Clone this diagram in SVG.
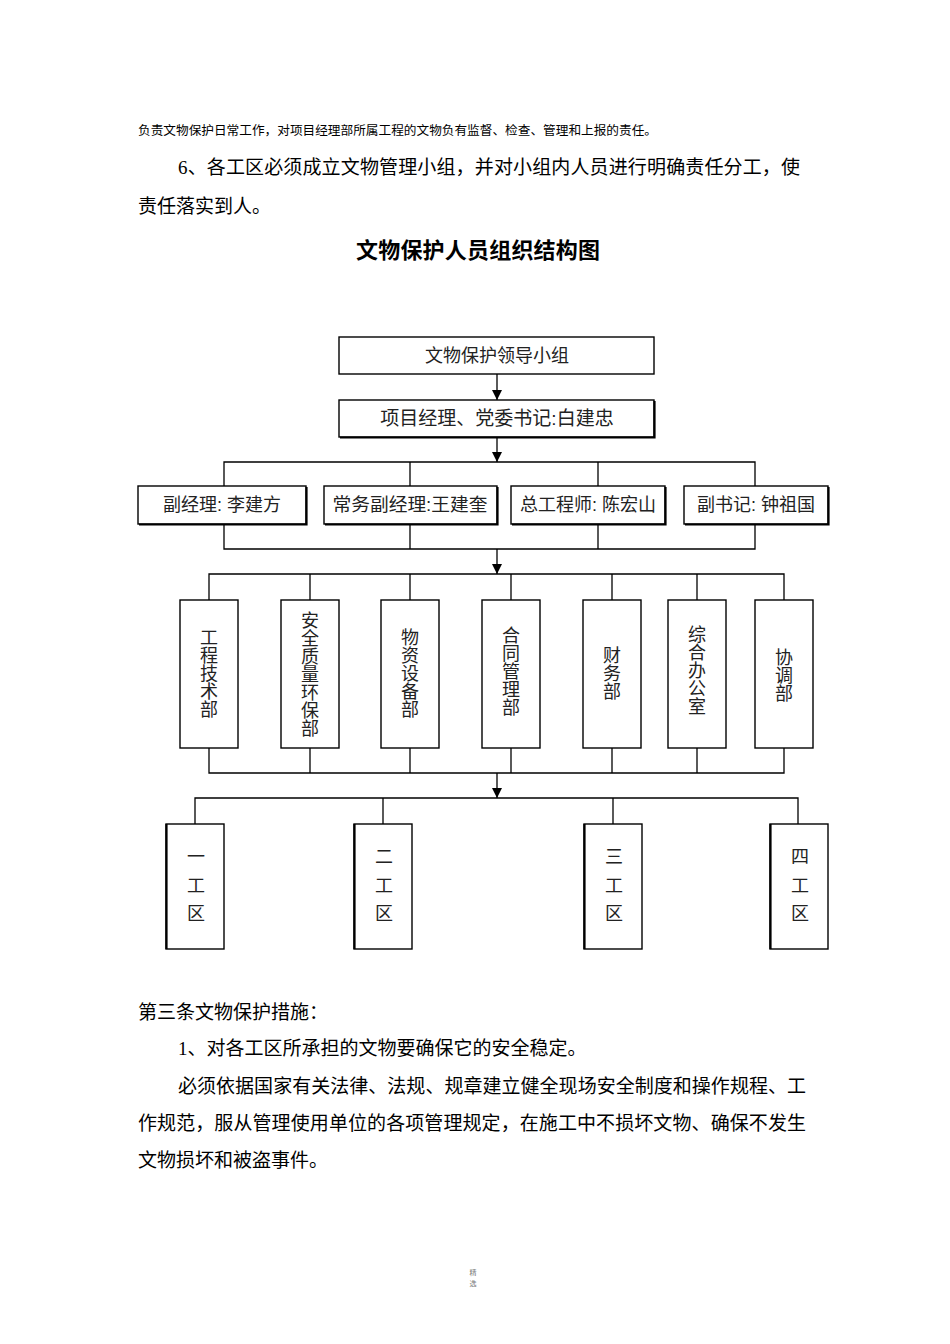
<svg xmlns="http://www.w3.org/2000/svg" width="950" height="1344" viewBox="0 0 950 1344">
<defs>
<marker id="arr" markerWidth="10" markerHeight="10" refX="10" refY="5" orient="auto" markerUnits="userSpaceOnUse" viewBox="0 0 10 10">
<path d="M0,0 L10,5 L0,10 Z" fill="#000"/>
</marker>
</defs>
<style>
.body{font-family:"Liberation Serif","Noto Sans CJK SC",serif;font-size:19px;fill:#000}
.small{font-family:"Liberation Serif","Noto Sans CJK SC",serif;font-size:12.5px;fill:#000}
.title{font-family:"Liberation Sans","Noto Sans CJK SC",sans-serif;font-size:22px;font-weight:bold;fill:#000}
.box{fill:#fff;stroke:#000;stroke-width:1.4}
.sh{fill:none;stroke:#000;stroke-width:2.2}
.lbl{font-family:"Liberation Sans","Noto Sans CJK SC",sans-serif;font-size:18px;fill:#222;text-anchor:middle}
.vl{font-family:"Liberation Sans","Noto Sans CJK SC",sans-serif;font-size:18px;fill:#222;text-anchor:middle}
.ln{fill:none;stroke:#000;stroke-width:1.3}
.foot{font-family:"Noto Sans CJK SC",sans-serif;font-size:7px;fill:#777;text-anchor:middle}
</style>
<rect width="950" height="1344" fill="#fff"/>

<g id="text-top">
<text class="small" x="138" y="135" textLength="519" lengthAdjust="spacingAndGlyphs">负责文物保护日常工作，对项目经理部所属工程的文物负有监督、检查、管理和上报的责任。</text>
<text class="body" x="178" y="174" textLength="622" lengthAdjust="spacing">6、各工区必须成立文物管理小组，并对小组内人员进行明确责任分工，使</text>
<text class="body" x="138" y="213">责任落实到人。</text>
<text class="title" x="478" y="258" text-anchor="middle" textLength="244" lengthAdjust="spacing">文物保护人员组织结构图</text>
</g>

<g id="connectors">
<line class="ln" x1="497" y1="374" x2="497" y2="400" marker-end="url(#arr)"/>
<line class="ln" x1="497" y1="437" x2="497" y2="462" marker-end="url(#arr)"/>
<polyline class="ln" points="224,486 224,462 755,462 755,486"/>
<line class="ln" x1="410" y1="462" x2="410" y2="486"/>
<line class="ln" x1="598" y1="462" x2="598" y2="486"/>
<polyline class="ln" points="224,524 224,549 755,549 755,524"/>
<line class="ln" x1="410" y1="524" x2="410" y2="549"/>
<line class="ln" x1="598" y1="524" x2="598" y2="549"/>
<line class="ln" x1="497" y1="549" x2="497" y2="574" marker-end="url(#arr)"/>
<polyline class="ln" points="209,600 209,574 784,574 784,600"/>
<line class="ln" x1="310" y1="574" x2="310" y2="600"/>
<line class="ln" x1="410" y1="574" x2="410" y2="600"/>
<line class="ln" x1="511" y1="574" x2="511" y2="600"/>
<line class="ln" x1="612" y1="574" x2="612" y2="600"/>
<line class="ln" x1="697" y1="574" x2="697" y2="600"/>
<polyline class="ln" points="209,748 209,773 784,773 784,748"/>
<line class="ln" x1="310" y1="748" x2="310" y2="773"/>
<line class="ln" x1="410" y1="748" x2="410" y2="773"/>
<line class="ln" x1="511" y1="748" x2="511" y2="773"/>
<line class="ln" x1="612" y1="748" x2="612" y2="773"/>
<line class="ln" x1="697" y1="748" x2="697" y2="773"/>
<line class="ln" x1="497" y1="773" x2="497" y2="798" marker-end="url(#arr)"/>
<polyline class="ln" points="195,824 195,798 798,798 798,824"/>
<line class="ln" x1="383" y1="798" x2="383" y2="824"/>
<line class="ln" x1="613" y1="798" x2="613" y2="824"/>
</g>

<g id="n-lead">
<rect class="box" x="339" y="337" width="315" height="37"/>
<text class="lbl" x="497" y="362">文物保护领导小组</text>
</g>
<g id="n-pm">
<rect class="box" x="339" y="400" width="315" height="37"/>
<polyline class="sh" points="340,437.5 654.5,437.5 654.5,401"/>
<text class="lbl" x="497" y="425" style="font-size:19px">项目经理、党委书记:白建忠</text>
</g>

<g id="n-dep1">
<rect class="box" x="138" y="486" width="168" height="38"/>
<polyline class="sh" points="139,524.5 306.5,524.5 306.5,487"/>
<text class="lbl" x="222" y="511">副经理: 李建方</text>
</g>
<g id="n-dep2">
<rect class="box" x="324" y="486" width="173" height="38"/>
<polyline class="sh" points="325,524.5 497.5,524.5 497.5,487"/>
<text class="lbl" x="410" y="511" textLength="155" lengthAdjust="spacingAndGlyphs">常务副经理:王建奎</text>
</g>
<g id="n-dep3">
<rect class="box" x="511" y="486" width="154" height="38"/>
<polyline class="sh" points="512,524.5 665.5,524.5 665.5,487"/>
<text class="lbl" x="588" y="511">总工程师: 陈宏山</text>
</g>
<g id="n-dep4">
<rect class="box" x="684" y="486" width="144" height="38"/>
<polyline class="sh" points="685,524.5 828.5,524.5 828.5,487"/>
<text class="lbl" x="756" y="511">副书记: 钟祖国</text>
</g>

<g id="n-d1">
<rect class="box" x="180" y="600" width="58" height="148"/>
<text class="vl"><tspan x="209" y="644">工</tspan><tspan x="209" y="662">程</tspan><tspan x="209" y="680">技</tspan><tspan x="209" y="698">术</tspan><tspan x="209" y="716">部</tspan></text>
</g>
<g id="n-d2">
<rect class="box" x="281" y="600" width="58" height="148"/>
<text class="vl"><tspan x="310" y="627">安</tspan><tspan x="310" y="645">全</tspan><tspan x="310" y="663">质</tspan><tspan x="310" y="681">量</tspan><tspan x="310" y="699">环</tspan><tspan x="310" y="717">保</tspan><tspan x="310" y="735">部</tspan></text>
</g>
<g id="n-d3">
<rect class="box" x="381" y="600" width="58" height="148"/>
<text class="vl"><tspan x="410" y="644">物</tspan><tspan x="410" y="662">资</tspan><tspan x="410" y="680">设</tspan><tspan x="410" y="698">备</tspan><tspan x="410" y="716">部</tspan></text>
</g>
<g id="n-d4">
<rect class="box" x="482" y="600" width="58" height="148"/>
<text class="vl"><tspan x="511" y="642">合</tspan><tspan x="511" y="660">同</tspan><tspan x="511" y="678">管</tspan><tspan x="511" y="696">理</tspan><tspan x="511" y="714">部</tspan></text>
</g>
<g id="n-d5">
<rect class="box" x="583" y="600" width="58" height="148"/>
<text class="vl"><tspan x="612" y="662">财</tspan><tspan x="612" y="680">务</tspan><tspan x="612" y="698">部</tspan></text>
</g>
<g id="n-d6">
<rect class="box" x="668" y="600" width="58" height="148"/>
<text class="vl"><tspan x="697" y="641">综</tspan><tspan x="697" y="659">合</tspan><tspan x="697" y="677">办</tspan><tspan x="697" y="695">公</tspan><tspan x="697" y="713">室</tspan></text>
</g>
<g id="n-d7">
<rect class="box" x="755" y="600" width="58" height="148"/>
<text class="vl"><tspan x="784" y="664">协</tspan><tspan x="784" y="682">调</tspan><tspan x="784" y="700">部</tspan></text>
</g>

<g id="n-w1">
<rect class="box" x="166" y="824" width="58" height="125"/>
<line class="sh" x1="166.5" y1="824" x2="166.5" y2="949"/>
<text class="vl"><tspan x="196" y="863">一</tspan><tspan x="196" y="892">工</tspan><tspan x="196" y="920">区</tspan></text>
</g>
<g id="n-w2">
<rect class="box" x="354" y="824" width="58" height="125"/>
<line class="sh" x1="354.5" y1="824" x2="354.5" y2="949"/>
<text class="vl"><tspan x="384" y="863">二</tspan><tspan x="384" y="892">工</tspan><tspan x="384" y="920">区</tspan></text>
</g>
<g id="n-w3">
<rect class="box" x="584" y="824" width="58" height="125"/>
<line class="sh" x1="584.5" y1="824" x2="584.5" y2="949"/>
<text class="vl"><tspan x="614" y="863">三</tspan><tspan x="614" y="892">工</tspan><tspan x="614" y="920">区</tspan></text>
</g>
<g id="n-w4">
<rect class="box" x="770" y="824" width="58" height="125"/>
<line class="sh" x1="770.5" y1="824" x2="770.5" y2="949"/>
<text class="vl"><tspan x="800" y="863">四</tspan><tspan x="800" y="892">工</tspan><tspan x="800" y="920">区</tspan></text>
</g>

<g id="text-bottom">
<text class="body" x="138" y="1019">第三条文物保护措施：</text>
<text class="body" x="178" y="1055">1、对各工区所承担的文物要确保它的安全稳定。</text>
<text class="body" x="178" y="1093" textLength="628" lengthAdjust="spacing">必须依据国家有关法律、法规、规章建立健全现场安全制度和操作规程、工</text>
<text class="body" x="138" y="1130" textLength="668" lengthAdjust="spacing">作规范，服从管理使用单位的各项管理规定，在施工中不损坏文物、确保不发生</text>
<text class="body" x="138" y="1167">文物损坏和被盗事件。</text>
</g>

<g id="footer">
<text class="foot" x="473" y="1275">精</text>
<text class="foot" x="473" y="1286">选</text>
</g>
</svg>
